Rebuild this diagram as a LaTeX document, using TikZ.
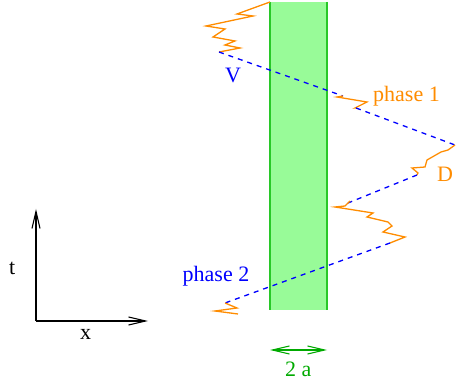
\documentclass[tikz,border=0pt]{standalone}
\usepackage{fontspec}
\setmainfont{Liberation Serif}
\usetikzlibrary{arrows.meta}
\definecolor{zorange}{RGB}{255,140,0}
\definecolor{zblue}{RGB}{0,0,255}
\definecolor{zgreenfill}{RGB}{152,251,152}
\definecolor{zgreenline}{RGB}{40,200,40}
\definecolor{zgreentext}{RGB}{0,170,0}
\tikzset{
  snake/.style={draw=zorange, line width=1.3pt, line join=miter},
  worldline/.style={draw=zblue, line width=1.3pt, dash pattern=on 5pt off 5pt},
  lbl/.style={font=\fontsize{22}{26}\selectfont, inner sep=0pt, anchor=base west},
  axis/.style={draw=black, line width=1.1pt, -{Straight Barb[length=17pt,width=8pt,line width=1.1pt]}},
  barb/.style={line width=1.1pt, {Straight Barb[length=17pt,width=8pt,line width=1.1pt]}-{Straight Barb[length=17pt,width=8pt,line width=1.1pt]}}
}
\begin{document}
\begin{tikzpicture}[x=1pt,y=-1pt]
\useasboundingbox (0,0) rectangle (456,385);
% barrier
\fill[zgreenfill] (270,2) rectangle (327,310);
\draw[zgreenline, line width=1.3pt] (270,2) -- (270,310);
\draw[zgreenline, line width=1.3pt] (327,2) -- (327,310);
% coordinates
\coordinate (s1) at (270,2);
\coordinate (v0) at (219,52);
\coordinate (p1a) at (343,96);
\coordinate (p1b) at (356,108);
\coordinate (d0) at (455,145);
\coordinate (d1) at (417,175);
\coordinate (z0) at (348,203);
\coordinate (z1) at (390,243);
\coordinate (b0) at (225,303);
% top snake
\path[snake] (s1) -- (237,14) -- (253,16) -- (206,26) -- (225,29) -- (213,37) -- (235,41) -- (225,45) -- (240,48) -- (v0);
% world line V -> phase 1
\path[worldline] (v0) -- (p1a);
\path[snake] (p1a) -- (337,97) -- (367,102) -- (355,108) -- (p1b);
\path[worldline] (p1b) -- (d0);
% D snake
\path[snake] (d0) -- (448,150) -- (441,152) -- (427,160) -- (425,167) -- (412,168) -- (418,173) -- (d1);
\path[worldline] (d1) -- (z0);
% middle snake
\path[snake] (z0) -- (350,201) -- (345,206) -- (335,207) -- (373,213) -- (367,217) -- (388,222) -- (392,226) -- (383,232) -- (405,237) -- (z1);
\path[worldline] (z1) -- (b0);
% bottom snake
\path[snake] (b0) -- (237,308) -- (215,311) -- (238,314);
% labels
\node[lbl, text=zblue] (lv) at (225,83) {V};
\node[lbl, text=zorange] (lp1) at (373,102) {phase 1};
\node[lbl, text=zorange] (ld) at (437,182) {D};
\node[lbl, text=zblue] (lp2) at (182.5,281.5) {phase 2};
% width arrow
\coordinate (wa) at (270,350);
\coordinate (wb) at (327,350);
\draw[barb, draw=zgreentext] (wa) -- (wb);
\node[lbl, text=zgreentext] (l2a) at (285,377) {2 a};
% axes
\coordinate (o) at (36,321);
\coordinate (tt) at (36,209);
\coordinate (xx) at (148,321);
\draw[axis] (o) -- (tt);
\draw[axis] (o) -- (xx);
\node[lbl] (lt) at (9,275) {t};
\node[lbl] (lx) at (80,340) {x};
\end{tikzpicture}
\end{document}
